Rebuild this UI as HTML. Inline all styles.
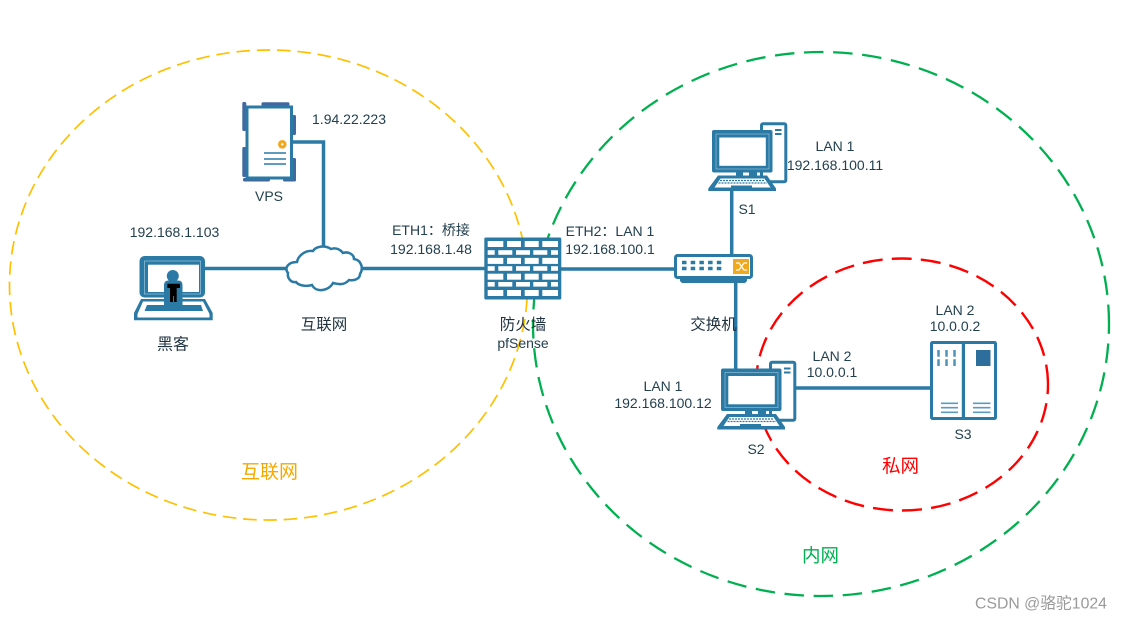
<!DOCTYPE html>
<html><head><meta charset="utf-8"><style>
html,body{margin:0;padding:0;background:#fff;width:1122px;height:620px;overflow:hidden}
svg{display:block}
text{font-family:"Liberation Sans","Noto Sans CJK SC",sans-serif;font-size:14px;fill:#23404f;text-anchor:middle}
.c{font-size:15.500px;fill:#1f3240}
.l{stroke:#2a7aa5;stroke-width:3.500;fill:none}
.i{fill:#2a7aa5}
.w{fill:#fff}
</style></head><body>
<svg width="1122" height="620" viewBox="0 0 1122 620" xmlns="http://www.w3.org/2000/svg">
<defs>
<g id="pc">
 <!-- tower -->
 <rect x="761.500" y="123.800" width="24.300" height="58" rx="1.500" fill="#fff" stroke="#2a7aa5" stroke-width="3"/>
 <rect x="775" y="129" width="6.500" height="2" class="i"/><rect x="775" y="133" width="6.500" height="2" class="i"/>
 <!-- monitor -->
 <rect x="712" y="130" width="60.500" height="42.500" rx="2" class="i"/>
 <rect x="716" y="134" width="53" height="35" fill="none" stroke="#8fbcd4" stroke-width=".7"/>
 <rect x="719.300" y="137.500" width="46.500" height="28.300" class="w"/>
 <rect x="736" y="172" width="7" height="4.500" class="i"/><rect x="749" y="172" width="8" height="4.500" class="i"/>
 <!-- keyboard -->
 <path d="M718 175.500H767L776 188.500V191H708.300V188.500Z" class="i"/>
 <path d="M720.500 178.500H764.500L770.500 187.500H714.500Z" fill="#fff"/>
 <path d="M720 180.500H765M718.500 183H767" stroke="#2a7aa5" stroke-width="1.200" stroke-dasharray="2 1" fill="none"/>
 <rect x="731" y="185.500" width="21" height="2.500" class="i"/>
</g>
<g id="ra"><rect x="487.700" width="15.600" height="6"/><rect x="507" width="14" height="6"/><rect x="524.700" width="14" height="6"/><rect x="542.300" width="15.700" height="6"/></g>
<g id="rb"><rect x="487.700" width="7" height="4.600"/><rect x="498.300" width="14" height="4.600"/><rect x="516" width="14" height="4.600"/><rect x="533.300" width="14" height="4.600"/><rect x="551" width="7" height="4.600"/></g>
</defs>

<!-- zone ellipses -->
<path d="M527.500 285A259 235 0 1 0 9.500 285A259 235 0 1 0 527.500 285Z" fill="none" stroke="#ffc000" stroke-width="1.700" stroke-dasharray="13.500 6.840"/>
<path d="M1109 324A288 272 0 1 0 533 324A288 272 0 1 0 1109 324Z" fill="none" stroke="#00b050" stroke-width="2.300" stroke-dasharray="19.500 9.660"/>
<path d="M1048 384.500A146 126 0 1 0 756 384.500A146 126 0 1 0 1048 384.500Z" fill="none" stroke="#ff0000" stroke-width="2.400" stroke-dasharray="20 9.160"/>

<!-- connectors -->
<path class="l" d="M293 142H323.500V248"/>
<path class="l" d="M204 268.500H288"/>
<path class="l" d="M361 268.500H486"/>
<path class="l" d="M560 269H676"/>
<path class="l" d="M731.700 188V256"/>
<path class="l" d="M735.700 281V372"/>
<path class="l" d="M793 388H933"/>

<!-- VPS -->
<g fill="#41699f">
 <rect x="242.300" y="102" width="4" height="29" rx="1.500"/><rect x="242.300" y="147" width="4" height="30" rx="1.500"/>
 <rect x="261.500" y="102.300" width="28" height="4" rx="1.500"/>
 <rect x="292" y="115" width="4" height="20" rx="1.500"/><rect x="292" y="158" width="4" height="22" rx="1.500"/>
 <rect x="243" y="178" width="27" height="3.500" rx="1.500"/><rect x="283" y="178" width="13" height="3.500" rx="1.500"/>
</g>
<rect x="247" y="107" width="44.500" height="71" fill="#fff" stroke="#2a7aa5" stroke-width="3"/>
<circle cx="282.300" cy="144.300" r="4.300" fill="#f0a81e"/><circle cx="282.300" cy="144.300" r="1.200" fill="#fff"/>
<path d="M264 153H286M264 159H286M264 164H286" stroke="#2a7aa5" stroke-width="1.600"/>

<!-- laptop -->
<rect x="139.500" y="256" width="65.500" height="41.500" rx="5" class="i"/>
<rect x="144.500" y="261" width="56" height="33" fill="none" stroke="#9cc5da" stroke-width=".7"/>
<rect x="148" y="264.700" width="51" height="27.300" class="w"/>
<path d="M141 299H205L212.700 313V320.300H134V313Z" class="i"/>
<path d="M143 301.500H203L209.500 314V317.500H137.500V314Z" fill="#fff"/>
<path d="M147 305H201L203 311H144.500Z" class="i"/>
<circle cx="172.800" cy="276" r="6" class="i"/>
<path d="M164 285Q164 280.500 168.500 280.500H178Q182.500 280.500 182.500 285V307H164Z" class="i"/>
<path d="M167.300 283.700H180V288H176.700V302H174V296H173V302H170V288H167.300Z" fill="#000"/>

<!-- cloud -->
<path d="M288 273C284 268 288 262 297 262C298 256 305 250 313 251C316 246 325 245 331 249C336 247 341 250 343 253C349 251 354 255 354 259C361 260 364 268 360 274C360 279 354 281 349 280C344 286 337 284 333 283C329 291 316 293 312 285C305 287 298 285 296 282C291 283 287 278 288 273Z" fill="#fff" stroke="#2a7aa5" stroke-width="2.500"/>

<!-- firewall -->
<rect x="484.300" y="237.500" width="77" height="62" rx="1.500" class="i"/>
<g fill="#fff">
 <use href="#ra" y="241"/><use href="#rb" y="250.200"/><use href="#ra" y="257.900"/>
 <use href="#rb" y="266.200"/><use href="#ra" y="273.700"/><use href="#rb" y="282"/><use href="#ra" y="290"/>
</g>

<!-- switch -->
<path d="M680 277H747V281L745 283H682L680 281Z" class="i"/>
<rect x="675.500" y="255.500" width="76" height="22" rx="2" fill="#fff" stroke="#2a7aa5" stroke-width="3"/>
<path d="M682 262.500H722M682 268.500H722" stroke="#2a7aa5" stroke-width="3.500" stroke-dasharray="4.500 4.200"/>
<rect x="733" y="259" width="16" height="15" fill="#f0a81e"/>
<path d="M736 263H739L744 270H747M736 270H739L744 263H747" stroke="#fff" stroke-width="1.300" fill="none"/>

<!-- PCs -->
<use href="#pc"/>
<use href="#pc" x="9" y="238.500"/>

<!-- S3 -->
<rect x="931.500" y="342.500" width="64" height="76" rx="1" fill="#fff" stroke="#2a7aa5" stroke-width="3"/>
<rect x="961.800" y="342" width="3.200" height="77" class="i"/>
<path d="M938.500 350V356.700M938.500 359.300V366M946.500 350V356.700M946.500 359.300V366M954.500 350V356.700M954.500 359.300V366" stroke="#4f93b8" stroke-width="2.500"/>
<rect x="976" y="350" width="14.500" height="16" fill="#2d6e9c"/>
<path d="M941 403.300H958M941 407.700H958M941 412.300H958M973 403.300H990.500M973 407.700H990.500M973 412.300H990.500" stroke="#5b9cbe" stroke-width="1.600"/>

<!-- labels -->
<text x="349" y="124">1.94.22.223</text>
<text x="269" y="201">VPS</text>
<text x="174.500" y="237">192.168.1.103</text>
<text class="c" x="173" y="349.500" style="font-size:16px">黑客</text>
<text class="c" x="324" y="329.500">互联网</text>
<text x="431" y="235">ETH1：桥接</text>
<text x="431" y="254">192.168.1.48</text>
<text x="610" y="236">ETH2：LAN 1</text>
<text x="610" y="254">192.168.100.1</text>
<text class="c" x="523" y="329.500">防火墙</text>
<text x="523" y="348">pfSense</text>
<text class="c" x="713.500" y="329.500">交换机</text>
<text x="747" y="214">S1</text>
<text x="835" y="151">LAN 1</text>
<text x="835" y="170">192.168.100.11</text>
<text x="955" y="315">LAN 2</text>
<text x="955" y="331">10.0.0.2</text>
<text x="832" y="361">LAN 2</text>
<text x="832" y="377">10.0.0.1</text>
<text x="663" y="391">LAN 1</text>
<text x="663" y="408">192.168.100.12</text>
<text x="756" y="454">S2</text>
<text x="963" y="439">S3</text>
<text x="269.500" y="478" style="font-size:19px;fill:#f5a800">互联网</text>
<text x="900.500" y="472.500" style="font-size:18.500px;fill:#ff0000">私网</text>
<text x="820.500" y="562" style="font-size:18.500px;fill:#00b050">内网</text>
<text x="1041" y="608.500" style="font-size:15.800px;fill:#9a9a9a">CSDN @骆驼1024</text>
</svg>
</body></html>
